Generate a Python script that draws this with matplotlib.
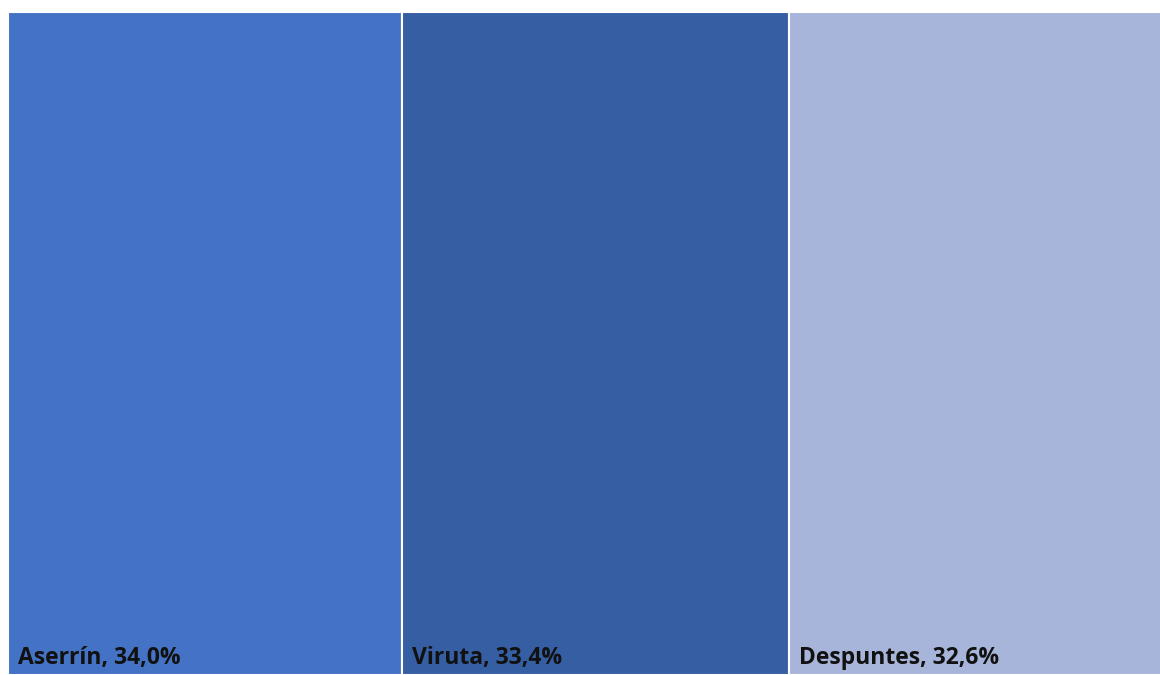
import matplotlib.pyplot as plt

labels = ['Aserrín', 'Viruta', 'Despuntes']
values = [34.0, 33.4, 32.6]
colors = ['#4472C4', '#355EA3', '#A8B5DA']

fig = plt.figure(figsize=(11.6, 6.75), dpi=100)
# treemap runs a few pixels past the right edge of the picture
ax = fig.add_axes([8 / 1160, 0, 1159 / 1160, 663 / 675])

left = 0
for lab, val, col in zip(labels, values, colors):
    ax.bar(left, 1, width=val, align='edge', color=col, edgecolor='white', linewidth=1.5)
    ax.text(left + 0.85, 0.017, '%s, %s%%' % (lab, ('%.1f' % val).replace('.', ',')),
            fontsize=16.5, fontweight='bold', family='Open Sans', color='#111111',
            ha='left', va='baseline')
    left += val

ax.set_xlim(0, sum(values))
ax.set_ylim(0, 1)
ax.axis('off')

fig.savefig('out.png', dpi=100)
